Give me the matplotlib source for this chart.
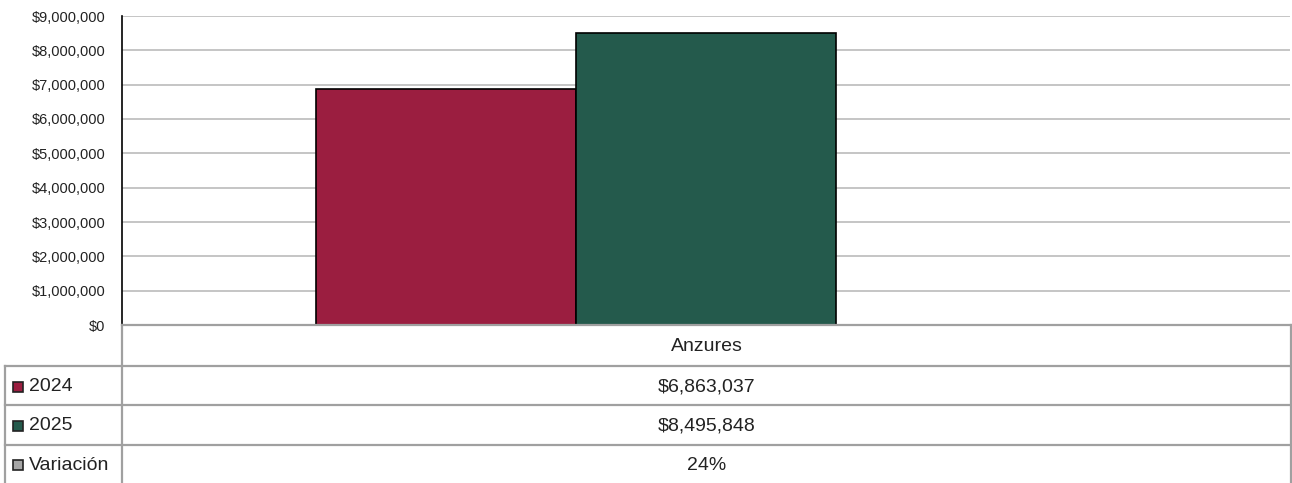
import matplotlib
matplotlib.use("Agg")
import matplotlib.pyplot as plt
from matplotlib.ticker import FuncFormatter
from matplotlib.patches import Rectangle

categories = ["Anzures"]
series_names = ["2024", "2025", "Variación"]
values_2024 = [6863037]
values_2025 = [8495848]
values_variacion = [0.24]
colors = ["#9B1E40", "#245A4C", "#A6A6A6"]
yticks = [0, 1000000, 2000000, 3000000, 4000000, 5000000, 6000000, 7000000, 8000000, 9000000]

plt.rcParams['font.family'] = ['Liberation Sans Narrow', 'Liberation Sans', 'DejaVu Sans']

W, H = 1292, 483
fig = plt.figure(figsize=(W / 100, H / 100), dpi=100)

# plot area in pixel coordinates
L, R, T, B = 122, 1290, 16, 325
ax = fig.add_axes([L / W, (H - B) / H, (R - L) / W, (B - T) / H])

bw = 0.2226
x = list(range(len(categories)))
series = [values_2024, values_2025, values_variacion]
for k, vals in enumerate(series):
    off = (k - 1) * bw
    ax.bar([xi + off for xi in x], vals, width=bw, color=colors[k],
           edgecolor="#000000", linewidth=1.2 if k < 2 else 0, zorder=3)
ax.set_xlim(-0.5, len(categories) - 0.5)
ax.set_ylim(0, 9000000)
ax.set_yticks(yticks)
ax.yaxis.set_major_formatter(FuncFormatter(lambda v, p: "${:,.0f}".format(v)))
ax.tick_params(axis='y', length=0, labelsize=10.5, colors="#222222", pad=12)
ax.set_xticks([])
ax.grid(axis='y', color="#C0C0C0", linewidth=1.3, zorder=0)
for s in ["top", "right", "bottom"]:
    ax.spines[s].set_visible(False)
ax.spines["left"].set_color("#000000")
ax.spines["left"].set_linewidth(1.2)

# data table overlay in pixel coordinates
tax = fig.add_axes([0, 0, 1, 1], facecolor="none")
tax.set_xlim(0, W)
tax.set_ylim(H, 0)
tax.axis("off")
lc = "#A0A0A0"
lw = 1.6
rows = [325, 366, 405, 445, 483]
tax.plot([L, W - 1], [rows[0], rows[0]], color=lc, lw=lw)
for y in rows[1:4]:
    tax.plot([5, W - 1], [y, y], color=lc, lw=lw)
tax.plot([L, L], [rows[0], H], color=lc, lw=lw)
tax.plot([5, 5], [rows[1], H], color=lc, lw=lw)
tax.plot([W - 1.5, W - 1.5], [rows[0], H], color=lc, lw=lw)

cx = (L + W) / 2
fs = 14
tax.text(cx, (rows[0] + rows[1]) / 2 + 1, categories[0], ha="center", va="center", fontsize=fs, color="#222222")
row_vals = ["${:,.0f}".format(values_2024[0]), "${:,.0f}".format(values_2025[0]),
            "{:.0f}%".format(values_variacion[0] * 100)]
for i, (name, val) in enumerate(zip(series_names, row_vals)):
    yc = (rows[i + 1] + rows[i + 2]) / 2 + 1
    tax.add_patch(Rectangle((13, yc - 5), 10, 10, facecolor=colors[i], edgecolor="#222222", lw=1.2))
    tax.text(29, yc, name, ha="left", va="center", fontsize=fs, color="#222222")
    tax.text(cx, yc, val, ha="center", va="center", fontsize=fs, color="#222222")

fig.savefig("out.png", dpi=100)
